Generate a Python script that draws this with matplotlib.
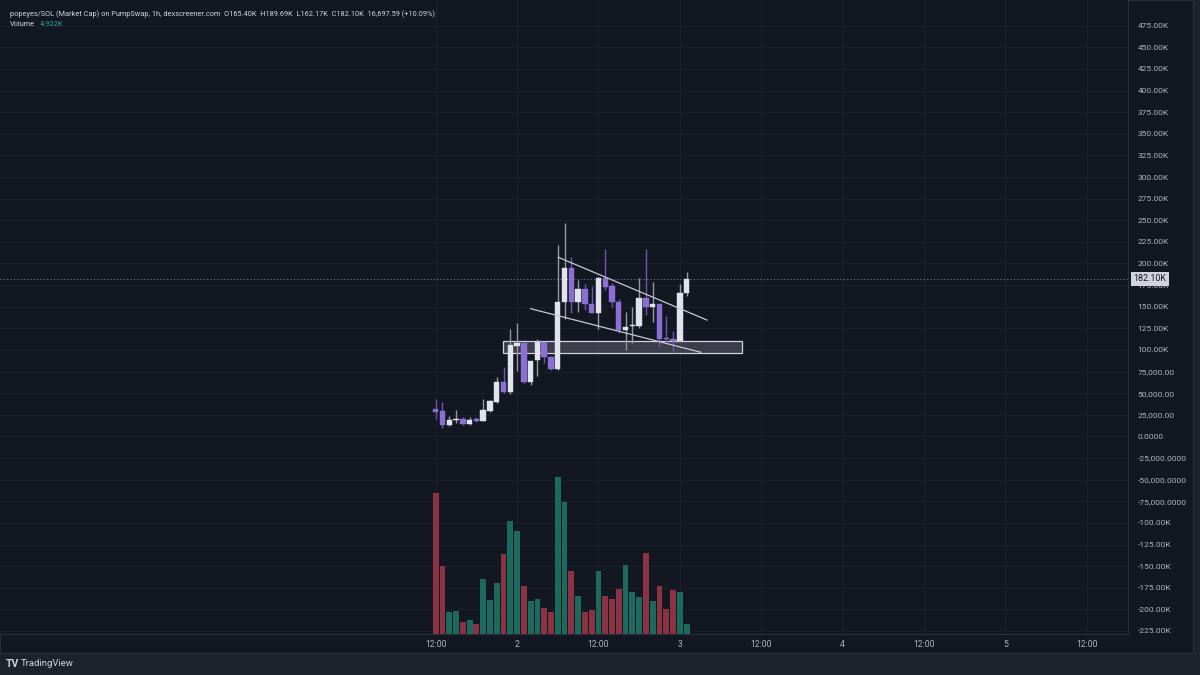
import numpy as np
import matplotlib.pyplot as plt
from matplotlib.patches import Rectangle

# hourly candles, hour 0 = day 1 12:00 (prices in K)
hours = np.arange(38)
opens = [31.3, 29.0, 12.8, 19.3, 20.1, 14.3, 19.8, 18.2, 29.4, 40.1,
         63.3, 51.4, 104.9, 107.6, 63.3, 87.9, 108.8, 91.8, 77.6, 155.8,
         194.4, 155.4, 170.1, 153.5, 143.1, 183.6, 173.5, 155.4, 123.1, 127.3,
         127.3, 160.4, 150.0, 153.5, 113.8, 113.0, 110.7, 165.40]
highs = [43.3, 39.8, 24.0, 30.5, 22.8, 22.8, 22.8, 43.6, 42.0, 68.7,
         80.3, 124.2, 130.8, 108.0, 87.6, 112.3, 109.5, 93.0, 221.4, 246.4,
         207.9, 180.9, 176.3, 174.0, 184.5, 216.7, 177.0, 158.5, 143.9, 150.0,
         182.8, 216.7, 178.9, 153.5, 139.6, 121.9, 176.3, 189.69]
lows = [19.7, 9.3, 12.0, 15.1, 13.5, 12.8, 16.7, 17.4, 28.6, 38.3,
        49.8, 49.0, 76.0, 62.0, 59.4, 70.2, 84.5, 77.0, 77.0, 135.4,
        143.1, 144.2, 146.2, 142.4, 123.9, 169.3, 149.3, 119.2, 99.9, 107.7,
        125.0, 140.4, 132.7, 103.7, 109.5, 96.8, 110.0, 162.17]
closes = [28.6, 12.8, 19.3, 20.5, 14.3, 19.3, 18.2, 30.2, 40.6, 63.3,
          51.4, 105.7, 107.6, 63.3, 87.6, 108.8, 91.8, 77.6, 155.8, 194.4,
          155.4, 170.1, 153.5, 143.1, 183.6, 173.2, 155.4, 123.1, 126.9, 128.0,
          160.4, 150.0, 153.5, 112.7, 112.7, 110.7, 165.5, 182.10]
volumes = [69.2, 33.5, 10.8, 11.5, 5.9, 7.1, 4.9, 27.1, 16.9, 24.9,
           39.5, 55.6, 50.7, 23.8, 16.2, 17.2, 12.8, 11.0, 77.2, 64.9,
           31.0, 18.7, 11.0, 11.8, 31.2, 18.7, 17.2, 22.3, 33.8, 20.5,
           18.2, 39.7, 16.1, 23.5, 12.5, 21.6, 20.8, 4.922]

# drawings: trendlines (hour, price) and support box
upper_line = [(18.1, 207.1), (40.0, 134.6)]
lower_line = [(14.0, 147.7), (39.1, 97.3)]
box_hours = (9.9, 45.2)
box_prices = (96.1, 110.3)

xtick_hours = [0, 12, 24, 36, 48, 60, 72, 84, 96]
xtick_labels = ['12:00', '2', '12:00', '3', '12:00', '4', '12:00', '5', '12:00']

ytick_values = list(range(475, -226, -25))
ytick_labels = ['475.00K', '450.00K', '425.00K', '400.00K', '375.00K', '350.00K',
                '325.00K', '300.00K', '275.00K', '250.00K', '225.00K', '200.00K',
                '175.00K', '150.00K', '125.00K', '100.00K', '75,000.00', '50,000.00',
                '25,000.00', '0.0000', '-25,000.0000', '-50,000.0000', '-75,000.0000',
                '-100.00K', '-125.00K', '-150.00K', '-175.00K', '-200.00K', '-225.00K']

BG = '#131722'
FRAME = '#1e222d'
GRID = '#1c202b'
TXT = '#b2b5be'
UP = '#e0e3eb'
DOWN = '#8c6ed4'
VOL_UP = '#1c6a5d'
VOL_DOWN = '#8a3443'

plt.rcParams['font.family'] = ['Liberation Sans Narrow', 'Roboto', 'DejaVu Sans']

W, H = 1200, 675
fig = plt.figure(figsize=(12, 6.75), dpi=100, facecolor=FRAME)


def rect(x, y, w, h):
    # pixel box (top-left origin) -> figure fraction
    return [x / W, 1 - (y + h) / H, w / W, h / H]


# dark chart panel
fig.patches.append(Rectangle((0, 1 - 653 / H), 1193 / W, 653 / H,
                             transform=fig.transFigure, facecolor=BG,
                             edgecolor='#2a2e39', lw=0.8, zorder=-5))

ax = fig.add_axes(rect(0, 0, 1128, 634))
ax.set_facecolor(BG)
ax.set_xlim(-64.26, 102.1)
ax.set_ylim(-228.5, 504.7)

# volume overlay
vax = fig.add_axes(rect(0, 0, 1128, 634), sharex=ax)
vax.set_ylim(0, 311.8)
vax.patch.set_visible(False)
vax.axis('off')
up = np.array(closes) >= np.array(opens)
vax.bar(hours, volumes, width=0.86, color=np.where(up, VOL_UP, VOL_DOWN), zorder=1)

# grid
ax.set_yticks(ytick_values)
ax.set_yticklabels(ytick_labels)
ax.set_xticks(xtick_hours)
ax.set_xticklabels(xtick_labels)
ax.grid(True, color=GRID, lw=0.8)
ax.yaxis.tick_right()
ax.tick_params(axis='y', length=0, pad=7, labelsize=6.0, labelcolor=TXT)
ax.tick_params(axis='x', length=0, pad=4.5, labelsize=6.2, labelcolor=TXT)
for s in ['top', 'left']:
    ax.spines[s].set_visible(False)
for s in ['right', 'bottom']:
    ax.spines[s].set_color('#2a2e39')
    ax.spines[s].set_linewidth(0.8)

# candles
for h, o, hi, lo, c in zip(hours, opens, highs, lows, closes):
    col = UP if c >= o else DOWN
    wick = '#9598a1' if c >= o else '#6e55b0'
    ax.vlines(h, lo, hi, color=wick, lw=1, zorder=3)
    body = max(abs(c - o), 1.2)
    ax.bar(h, body, bottom=min(o, c), width=0.8, color=col,
           edgecolor=col, lw=0.3, zorder=4)

# drawings
ax.plot(*zip(*upper_line), color='#c8cad0', lw=0.9, zorder=5)
ax.plot(*zip(*lower_line), color='#c8cad0', lw=0.9, zorder=5)
ax.add_patch(Rectangle((box_hours[0], box_prices[0]), box_hours[1] - box_hours[0],
                       box_prices[1] - box_prices[0], facecolor=(0.8, 0.8, 0.85, 0.22),
                       edgecolor='#d1d4dc', lw=0.9, zorder=2))

# last price line and label (covers the 175K tick like the original)
last = closes[-1]
ax.axhline(last, color='#787b86', lw=0.8, ls=(0, (1, 2)), zorder=2)
ax.annotate(f'{last:.2f}K', xy=(1.0, last), xycoords=('axes fraction', 'data'),
            xytext=(4, 0), textcoords='offset points', ha='left', va='center',
            fontsize=6.4, color='#131722', annotation_clip=False,
            bbox=dict(boxstyle='square,pad=0.3', fc='#d1d4dc', ec='none'))

# header
fig.text(10 / W, 1 - 14 / H,
         'popeyes/SOL (Market Cap) on PumpSwap, 1h, dexscreener.com  '
         'O165.40K  H189.69K  L162.17K  C182.10K  16,697.59 (+10.09%)',
         fontsize=5.3, color='#d1d4dc', va='center', ha='left')
fig.text(10 / W, 1 - 25 / H, 'Volume', fontsize=5.3, color='#d1d4dc',
         va='center', ha='left')
fig.text(40 / W, 1 - 25 / H, '4.922K', fontsize=5.3, color='#22ab94',
         va='center', ha='left')

# footer logo
fig.text(6 / W, 1 - 664 / H, 'TV', fontsize=7.5, fontweight='bold',
         color='#d1d4dc', va='center', ha='left')
fig.text(21 / W, 1 - 664 / H, 'TradingView', fontsize=6.8, color='#d1d4dc',
         va='center', ha='left')

fig.savefig('out.png', dpi=100, facecolor=FRAME)
